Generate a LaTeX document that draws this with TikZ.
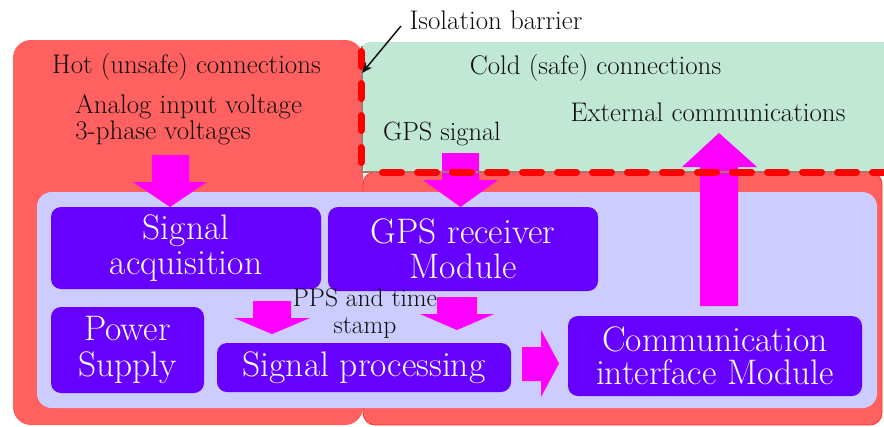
\documentclass[tikz,border=0pt]{standalone}
\usetikzlibrary{arrows.meta}
\definecolor{hot}{RGB}{255,96,96}
\definecolor{hotedge}{RGB}{255,50,50}
\definecolor{cold}{RGB}{192,232,212}
\definecolor{lav}{RGB}{204,204,255}
\definecolor{blu}{RGB}{102,0,255}
\definecolor{mag}{RGB}{255,0,255}
\definecolor{barbrown}{RGB}{170,120,100}
\definecolor{txt}{RGB}{15,15,15}
\begin{document}
\begin{tikzpicture}[x=0.75pt,y=-0.75pt,
  blk/.style={fill=blu, rounded corners=7.5pt, text=white, align=center,
    inner sep=0pt, font=\fontsize{26.6}{26.5}\selectfont},
  lbl/.style={text=txt, inner sep=0pt, font=\fontsize{20.2}{19.5}\selectfont},
  barrier/.style={red, line width=5.25pt, line cap=round},
  blockarrow/.style={fill=mag}]
\useasboundingbox (0,0) rectangle (884,426);
\fill[white] (0,0) rectangle (884,426);
% regions
\fill[hot, rounded corners=13.5pt] (13,40) rectangle (363,425);
\fill[cold, rounded corners=7pt] (361,42) rectangle (900,172);
\filldraw[fill=hot, draw=hotedge, line width=0.6pt, rounded corners=9pt] (363,172) rectangle (882,425);
\fill[lav, rounded corners=11pt] (37,192) rectangle (877,408);
% blocks
\node[blk, minimum width=202.5pt, minimum height=61.5pt] (sa) at (186,248) {Signal\\acquisition};
\node[blk, minimum width=202.5pt, minimum height=63pt] (gps) at (463,249) {GPS receiver\\Module};
\node[blk, minimum width=114.75pt, minimum height=64.5pt] (ps) at (127.5,350) {Power\\Supply};
\node[blk, minimum width=220.5pt, minimum height=36.75pt] (sp) at (364,367.5) {Signal processing};
\node[blk, minimum width=220.5pt, minimum height=60pt, font=\fontsize{26.6}{25}\selectfont] (cim) at (715,356) {Communication\\interface Module};
% labels
\node[lbl] (hotl) at (186.5,67) {Hot (unsafe) connections};
\node[lbl, anchor=west, align=left] (analog) at (75,120) {Analog input voltage\\3-phase voltages};
\node[lbl] (coldl) at (595.5,68) {Cold (safe) connections};
\node[lbl] (ext) at (708,112) {External communications};
\node[lbl, font=\fontsize{19.8}{19}\selectfont] (gpss) at (442,134) {GPS signal};
\node[lbl, align=center, font=\fontsize{19.2}{20}\selectfont] (pps) at (365,313.5) {PPS and time\\stamp};
\node[lbl] (iso) at (496,20) {Isolation barrier};
% block arrows
\fill[blockarrow] (152,155) -- (189,155) -- (189,182) -- (207,182) -- (170,207) -- (133,182) -- (152,182) -- cycle;
\fill[blockarrow] (442,153) -- (479,153) -- (479,180) -- (498,180) -- (460.5,207) -- (423,180) -- (442,180) -- cycle;
\fill[blockarrow] (253,301) -- (291,301) -- (291,318) -- (310,318) -- (272,334) -- (234,318) -- (253,318) -- cycle;
\fill[blockarrow] (437,297) -- (477,297) -- (477,314) -- (494,314) -- (457,330) -- (420,314) -- (437,314) -- cycle;
\fill[blockarrow] (522,347) -- (541,347) -- (541,330) -- (559,363.5) -- (541,397) -- (541,381) -- (522,381) -- cycle;
\fill[blockarrow] (700,306) -- (738,306) -- (738,167) -- (757,167) -- (719,133) -- (682,167) -- (700,167) -- cycle;
% isolation barrier
\draw[barbrown, line width=1.5pt] (362,46) -- (362,172) -- (880,172);
\draw[barrier, dash pattern=on 11.25pt off 12.75pt] (361,51.5) -- (361,168);
\draw[barrier, dash pattern=on 14.25pt off 12pt] (382.5,172) -- (884,172);
% pointer
\coordinate (isostart) at (401,26);
\coordinate (isoend) at (362,73);
\draw[txt, line width=1.1pt, -{Stealth[length=8pt,width=6.5pt]}] (isostart) -- (isoend);
\end{tikzpicture}
\end{document}
